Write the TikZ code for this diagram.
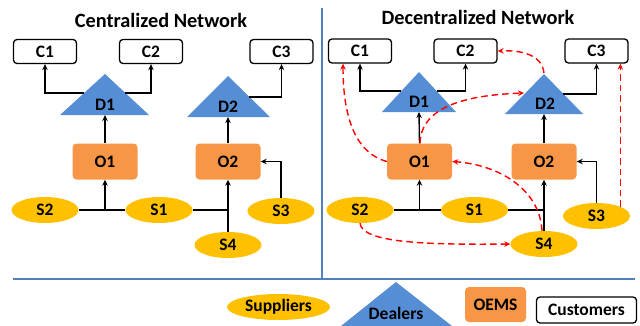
\documentclass[tikz,border=0pt]{standalone}
\usepackage{fontspec}
\setmainfont{Carlito}
\usetikzlibrary{shapes.geometric,arrows.meta}
\definecolor{oemc}{HTML}{F79646}
\definecolor{supc}{HTML}{FFC000}
\definecolor{dealc}{HTML}{558ED5}
\definecolor{linec}{HTML}{4F81BD}
\tikzset{
  lbl/.style={font=\bfseries\fontsize{17.5}{19}\selectfont, inner sep=0pt},
  ttl/.style={font=\bfseries\fontsize{20.3}{22}\selectfont, inner sep=0pt},
  cust/.style={lbl, draw=black, line width=1.3pt, rounded corners=3.5pt, fill=white, minimum width=63pt, minimum height=24pt},
  oem/.style={lbl, fill=oemc, rounded corners=4pt, minimum width=65pt, minimum height=36pt},
  sup/.style={lbl, ellipse, fill=supc, minimum width=67pt, minimum height=26pt},
  dealer/.style={fill=dealc},
  conn/.style={line width=1.4pt, -{Stealth[length=6pt,width=5.5pt]}},
  plain/.style={line width=1.4pt},
  rdash/.style={red, line width=1.4pt, dash pattern=on 6.5pt off 4pt, -{Stealth[length=6pt,width=5.5pt]}},
  divider/.style={linec, line width=1.6pt}
}
\begin{document}
\begin{tikzpicture}[x=1pt,y=-1pt]
\useasboundingbox (0,0) rectangle (640,325);
% dividers
\draw[divider] (13,279) -- (635,279);
\draw[divider] (322,8) -- (322,279);
% titles
\node[ttl] (t1) at (161,20) {Centralized Network};
\node[ttl] (t2) at (478,17) {Decentralized Network};

% ===== Left panel =====
\node[cust] (lC1) at (45,51.5) {C1};
\node[cust] (lC2) at (151,51.5) {C2};
\node[cust] (lC3) at (281.5,51.5) {C3};
\fill[dealer] (60,115) -- (105,74) -- (149,115) -- cycle;
\fill[dealer] (187,117) -- (228,76) -- (270,117) -- cycle;
\node[lbl] (lD1) at (105,105) {D1};
\node[lbl] (lD2) at (228,107) {D2};
\coordinate (lD1b) at (105,115);
\coordinate (lD2b) at (228,117);
\coordinate (lD1l) at (84,93);
\coordinate (lD1r) at (125,93);
\coordinate (lD2r) at (249,97);
\node[oem] (lO1) at (105,161.5) {O1};
\node[oem] (lO2) at (228,161.5) {O2};
\node[sup] (lS2) at (45,210) {S2};
\node[sup] (lS1) at (159,210) {S1};
\node[sup] (lS3) at (281,211) {S3};
\node[sup] (lS4) at (228,245) {S4};

\draw[conn] (lD1l) -| (lC1.south);
\draw[conn] (lD1r) -| (lC2.south);
\draw[conn] (lD2r) -| (lC3.south);
\draw[conn] (lO1.north) -- (lD1b);
\draw[conn] (lO2.north) -- (lD2b);
\draw[plain] (lS2.east) -- (lS1.west);
\draw[conn] (lO1.south |- lS1.west) -- (lO1.south);
\draw[plain] (lS1.east) -- (lO2.south |- lS1.east);
\draw[conn] (lS4.north) -- (lO2.south);
\draw[conn] (lS3.north) |- (lO2.east);

% ===== Right panel =====
\node[cust] (rC1) at (360,51) {C1};
\node[cust] (rC2) at (465.5,51) {C2};
\node[cust] (rC3) at (596.5,51) {C3};
\fill[dealer] (382,112) -- (419,72) -- (456,112) -- cycle;
\fill[dealer] (505,114) -- (544,74) -- (583,114) -- cycle;
\node[lbl] (rD1) at (419,102) {D1};
\node[lbl] (rD2) at (545,104) {D2};
\coordinate (rD1b) at (419,112);
\coordinate (rD2b) at (544,114);
\coordinate (rD1l) at (401,91);
\coordinate (rD1r) at (437,91);
\coordinate (rD2r) at (563,94);
\coordinate (rD2l) at (524,93);
\coordinate (rD2t) at (544,73);
\node[oem] (rO1) at (419.5,161.5) {O1};
\node[oem] (rO2) at (544,161.5) {O2};
\node[sup] (rS2) at (360,210) {S2};
\node[sup] (rS1) at (474.5,210) {S1};
\node[sup] (rS3) at (596.5,216) {S3};
\node[sup] (rS4) at (544,244) {S4};

\draw[conn] (rD1l) -| (rC1.south);
\draw[conn] (rD1r) -| (rC2.south);
\draw[conn] (rD2r) -| (rC3.south);
\draw[conn] (rO1.north) -- (rD1b);
\draw[conn] (rO2.north) -- (rD2b);
\draw[plain] (rS2.east) -- (rS1.west);
\draw[conn] (rO1.south |- rS1.west) -- (rO1.south);
\draw[plain] (rS1.east) -- (rO2.south |- rS1.east);
\draw[conn] (rS4.north) -- (rO2.south);
\draw[conn] (rS3.north) |- (rO2.east);

% red dashed
\draw[rdash] (rO1.west) .. controls (352,152) and (343,110) .. ([xshift=-17pt]rC1.south);
\draw[rdash] ([xshift=0.5pt]rO1.north) .. controls (421,105) and (470,95) .. (rD2l);
\draw[rdash] (rD2t) .. controls (542,55) and (522,50) .. (rC2.east);
\draw[rdash] (rS3.north east) -- (rS3.north east |- rC3.south);
\draw[rdash] ([xshift=-2pt]rS4.north) .. controls (540,190) and (500,165) .. (rO1.east);
\draw[rdash] (rS2.south) .. controls (362,242) and (420,245) .. (rS4.west);

% ===== Legend =====
\node[sup, minimum width=103pt, minimum height=26pt] (gS) at (278.5,307) {Suppliers};
\fill[dealer] (341,326) -- (396,282) -- (452,326) -- cycle;
\node[lbl] (gD) at (396,313) {Dealers};
\node[oem, minimum width=61pt, minimum height=35pt] (gO) at (495.5,304.5) {OEMS};
\node[cust, minimum width=100pt, minimum height=26pt] (gC) at (586.5,310) {Customers};
\end{tikzpicture}
\end{document}
